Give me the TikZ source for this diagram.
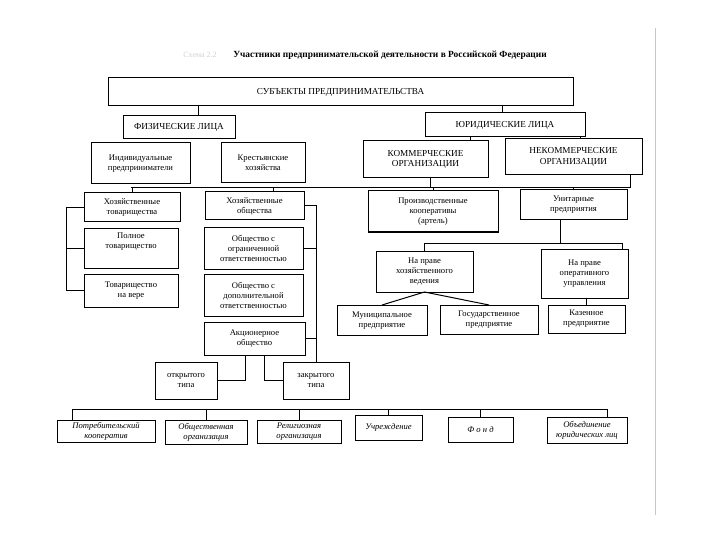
\documentclass[tikz,border=0pt]{standalone}
\usepackage{fontspec}
\setmainfont{Liberation Serif}
\tikzset{
  box/.style={draw, line width=1pt, inner sep=1pt, outer sep=0pt, align=center,
    font=\fontsize{8.6}{10}\selectfont},
  ubox/.style={box, font=\fontsize{9.2}{10.5}\selectfont},
  ibox/.style={box, font=\fontsize{8.6}{10}\selectfont\itshape},
  conn/.style={line width=1pt},
}
\newcommand{\bx}[7][box]{\node[#1,minimum width={#5-#3},minimum height={#6-#4}] (#2) at ({(#3+#5)/2},{(#4+#6)/2}) {#7};}
\begin{document}
\begin{tikzpicture}[x=1pt,y=-1pt]
\useasboundingbox (0,0) rectangle (720,540);
\fill[white] (0,0) rectangle (720,540);
\draw[gray!45, line width=0.6pt] (655,28) -- (655,515);
% title
\node[text=gray!35, font=\fontsize{8}{9}\selectfont] (fig) at (200,55) {Схема 2.2};
\node[font=\fontsize{9.4}{10}\selectfont\bfseries] (title) at (390,55) {Участники предпринимательской деятельности в Российской Федерации};
% boxes
\bx[ubox]{top}{108}{78}{573}{106}{СУБЪЕКТЫ ПРЕДПРИНИМАТЕЛЬСТВА}
\bx[ubox]{fl}{123}{116}{235}{139}{ФИЗИЧЕСКИЕ ЛИЦА}
\bx[ubox]{yl}{425}{113}{585}{137}{ЮРИДИЧЕСКИЕ ЛИЦА}
\bx{ip}{91}{143}{190}{184}{Индивидуальные\\предприниматели}
\bx{kh}{221}{143}{305}{183}{Крестьянские\\хозяйства}
\bx[ubox]{ko}{363}{141}{488}{178}{КОММЕРЧЕСКИЕ\\ОРГАНИЗАЦИИ}
\bx[ubox]{nko}{505}{139}{642}{175}{НЕКОММЕРЧЕСКИЕ\\ОРГАНИЗАЦИИ}
\bx{ht}{84}{193}{180}{222}{Хозяйственные\\товарищества}
\bx{pt}{84}{229}{178}{268}{Полное\\товарищество\\[6pt]}
\bx{nv}{84}{274}{178}{307}{Товарищество\\на вере}
\bx{ho}{205}{192}{304}{220}{Хозяйственные\\общества}
\bx{ooo}{204}{228}{303}{269}{Общество с\\ограниченной\\ответственностью}
\bx{odo}{204}{274}{303}{316}{Общество с\\дополнительной\\ответственностью}
\bx{ao}{204}{322}{305}{355}{Акционерное\\общество}
\bx{ot}{155}{362}{217}{399}{открытого\\типа}
\bx{zt}{283}{362}{349}{399}{закрытого\\типа}
\bx{pk}{368}{191}{498}{232}{Производственные\\кооперативы\\(артель)}
\bx{up}{520}{190}{627}{220}{Унитарные\\предприятия}
\bx{hv}{376}{251}{473}{292}{На праве\\хозяйственного\\ведения}
\bx{ou}{541}{249}{628}{298}{На праве\\оперативного\\управления}
\bx{mp}{337}{305}{427}{335}{\\[-4pt]Муниципальное\\предприятие}
\bx{gp}{440}{305}{538}{334}{Государственное\\предприятие}
\bx{kp}{548}{305}{625}{333}{Казенное\\предприятие}
\bx[ibox]{pc}{57}{420}{155}{442}{Потребительский\\кооператив}
\bx[ibox]{oo}{165}{420}{247}{444}{Общественная\\организация}
\bx[ibox]{ro}{257}{420}{341}{443}{Религиозная\\организация}
\bx[ibox]{uch}{355}{415}{422}{440}{Учреждение}
\bx[ibox]{fond}{448}{417}{513}{442}{Ф о н д}
\bx[ibox]{ob}{547}{417}{627}{443}{Объединение\\юридических лиц}
% helper coordinates
\coordinate (busL) at (131,188);
\coordinate (busR) at (630,188);
\coordinate (lbx) at (66,250);
\coordinate (ub) at (500,243);
\coordinate (bb) at (300,409);
% connectors
\begin{scope}[conn]
\draw ([xshift=19]fl.north) -- ([xshift=19]fl.north |- top.south);
\draw ([xshift=-3]yl.north) -- ([xshift=-3]yl.north |- top.south);
\draw ([xshift=44.5]ko.north) -- ([xshift=44.5]ko.north |- yl.south);
\draw ([xshift=6.5]nko.north) -- ([xshift=6.5]nko.north |- yl.south);
\draw (busL) -- (busR);
\draw ([xshift=4.5]ko.south) -- ([xshift=4.5]ko.south |- busL);
\draw ([xshift=56.5]nko.south) -- ([xshift=56.5]nko.south |- busL);
\draw (ht.north) -- (ht.north |- busL);
\draw ([xshift=18.5]ho.north) -- ([xshift=18.5]ho.north |- busL);
\draw (pk.north) -- (pk.north |- busL);
\draw (up.north) -- (up.north |- busL);
% left bracket
\draw (ht.west) -| (lbx |- nv.west) -- (nv.west);
\draw (pt.west) -- (pt.west -| lbx);
% middle bracket
\draw (ho.east) -| (zt.north);
\draw (ooo.east) -- (ooo.east -| zt.north);
\draw (ao.east) -- (ao.east -| zt.north);
\draw ([xshift=-9.5]ao.south) |- (ot.east);
\draw ([xshift=9.5]ao.south) |- (zt.west);
% unitary
\draw ([xshift=-13.5]up.south) -- ([xshift=-13.5]up.south |- ub);
\draw (hv.north) -- (hv.north |- ub) -| ([xshift=37.5]ou.north);
\draw (mp.north) -- (hv.south) -- (gp.north);
\draw (kp.north) -- (kp.north |- ou.south);
% bottom bus
\draw ([xshift=-34]pc.north) |- ([xshift=20]ob.north |- bb) -- ([xshift=20]ob.north);
\draw (oo.north) -- (oo.north |- bb);
\draw (ro.north) -- (ro.north |- bb);
\draw (uch.north) -- (uch.north |- bb);
\draw (fond.north) -- (fond.north |- bb);
\end{scope}
\end{tikzpicture}
\end{document}
